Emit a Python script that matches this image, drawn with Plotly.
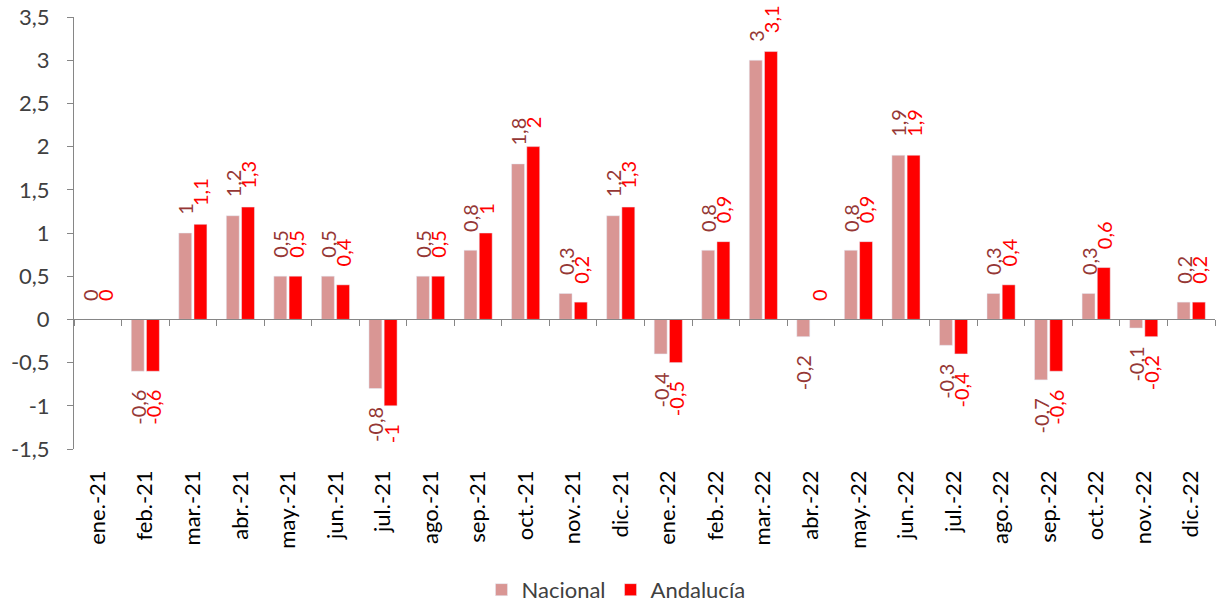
import plotly.graph_objects as go

categories = ["ene.-21", "feb.-21", "mar.-21", "abr.-21", "may.-21", "jun.-21",
              "jul.-21", "ago.-21", "sep.-21", "oct.-21", "nov.-21", "dic.-21",
              "ene.-22", "feb.-22", "mar.-22", "abr.-22", "may.-22", "jun.-22",
              "jul.-22", "ago.-22", "sep.-22", "oct.-22", "nov.-22", "dic.-22"]
nacional = [0, -0.6, 1, 1.2, 0.5, 0.5, -0.8, 0.5, 0.8, 1.8, 0.3, 1.2,
            -0.4, 0.8, 3, -0.2, 0.8, 1.9, -0.3, 0.3, -0.7, 0.3, -0.1, 0.2]
andalucia = [0, -0.6, 1.1, 1.3, 0.5, 0.4, -1, 0.5, 1, 2, 0.2, 1.3,
             -0.5, 0.9, 3.1, 0, 0.9, 1.9, -0.4, 0.4, -0.6, 0.6, -0.2, 0.2]
ytick_vals = [-1.5, -1, -0.5, 0, 0.5, 1, 1.5, 2, 2.5, 3, 3.5]
ytick_text = ["-1,5", "-1", "-0,5", "0", "0,5", "1", "1,5", "2", "2,5", "3", "3,5"]

FONT = "Lato, 'Liberation Sans', sans-serif"
PAD = "\u00a0\u00a0\u00a0"


def fmt(v):
    s = f"{v:g}".replace(".", ",")
    # keep a small gap between the bar end and the rotated label
    return s + PAD if v < 0 else PAD + s


fig = go.Figure()
fig.add_trace(go.Bar(
    name="Nacional", x=categories, y=nacional,
    marker_color="#D99694",
    text=[fmt(v) for v in nacional], textposition="outside", textangle=-90,
    textfont=dict(color="#953735", size=20, family=FONT),
    constraintext="none", cliponaxis=False,
))
fig.add_trace(go.Bar(
    name="Andalucía", x=categories, y=andalucia,
    marker_color="#FF0000",
    text=[fmt(v) for v in andalucia], textposition="outside", textangle=-90,
    textfont=dict(color="#FF0000", size=20, family=FONT),
    constraintext="none", cliponaxis=False,
))
# invisible trace carrying the category axis drawn through zero
fig.add_trace(go.Scatter(x=categories, y=[0] * len(categories), xaxis="x2",
                         mode="lines", line=dict(width=0), showlegend=False,
                         hoverinfo="skip"))

fig.update_layout(
    width=1219, height=604,
    margin=dict(l=74, r=4, t=17, b=155, autoexpand=False),
    paper_bgcolor="white", plot_bgcolor="white",
    barmode="group", bargap=0.36, bargroupgap=0.15,
    font=dict(family=FONT, color="#404040", size=20),
    xaxis=dict(type="category", showline=False, ticks="", tickangle=-90,
               tickfont=dict(size=22, color="#000000"), showgrid=False,
               zeroline=False, automargin=False, ticklabelstandoff=16),
    xaxis2=dict(type="category", overlaying="x", anchor="free", position=0.3,
                showline=True, linecolor="#868686", linewidth=1,
                ticks="outside", tickson="boundaries", ticklen=6,
                tickcolor="#868686", showticklabels=False, showgrid=False,
                matches="x", automargin=False),
    yaxis=dict(range=[-1.5, 3.5], tickvals=ytick_vals, ticktext=ytick_text,
               showline=True, linecolor="#868686", ticks="outside",
               ticklen=6, tickcolor="#868686", showgrid=False, zeroline=False,
               automargin=False, ticklabelstandoff=13,
               ticklabeloverflow="allow",
               tickfont=dict(size=22, color="#404040")),
    legend=dict(orientation="h", x=0.475, xanchor="center", y=-0.326,
                yanchor="middle", font=dict(size=22, color="#404040"),
                traceorder="normal", itemwidth=30),
)

fig.write_html(
    "out.html",
    config={"displayModeBar": False},
    post_script="document.body.style.margin='0';"
                "document.body.style.overflow='hidden';",
)
